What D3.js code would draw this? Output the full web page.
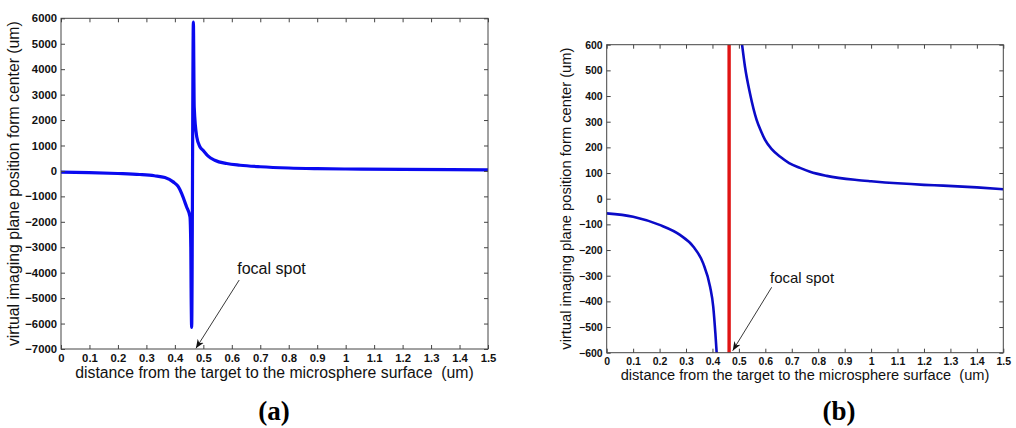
<!DOCTYPE html>
<html>
<head>
<meta charset="utf-8">
<script src="https://cdn.jsdelivr.net/npm/d3@7/dist/d3.min.js"></script>
<style>
  html, body { margin: 0; padding: 0; background: #fff; }
  svg { display: block; }
  .tick text { font-family: "Liberation Sans", Arial, sans-serif; font-weight: bold; fill: #111; }
  .domain { display: none; }
  .tick line { stroke: #444; }
</style>
</head>
<body>
<svg id="fig" width="1016" height="428"></svg>
<script>
// ---- data -------------------------------------------------------------
// (a) full range: image position vs. target distance
const distA = [0, 0.1, 0.2, 0.277, 0.328, 0.365, 0.394, 0.412, 0.424, 0.441, 0.453, 0.456, 0.457, 0.459,
               0.465, 0.468, 0.477, 0.488, 0.500, 0.517, 0.540, 0.582, 0.629, 0.7, 0.8, 0.9, 1.0, 1.2, 1.5];
const posA  = [-50, -65, -100, -140, -190, -260, -430, -620, -890, -1410, -1800, -3000, -4600, -6150,
               5850, 2500, 1335, 950, 800, 580, 420, 290, 224, 165, 115, 90, 75, 58, 45];

// (b) zoomed range, two branches either side of the focal spot
const distBLeft = [0, 0.1, 0.2, 0.277, 0.328, 0.365, 0.391, 0.403, 0.411, 0.416];
const posBLeft  = [-57, -70, -102, -141, -187, -252, -343, -421, -524, -602];
const distBRight = [0.512, 0.523, 0.542, 0.567, 0.585, 0.599, 0.625, 0.655, 0.69, 0.731, 0.769, 0.832,
                    0.946, 1.0, 1.1, 1.2, 1.273, 1.4, 1.5];
const posBRight  = [600, 514, 410, 307, 260, 229, 192, 164, 139, 120, 105, 89,
                    73, 68, 60, 54, 51, 44, 37];

const focalX = 0.463;

// axis ticks
const xTicks = d3.range(0, 16).map(i => i / 10);
const yTicksA = d3.range(-7000, 6001, 1000);
const yTicksB = d3.range(-600, 601, 100);

const xTitle = "distance from the target to the microsphere surface\u00a0\u00a0(um)";
const yTitle = "virtual imaging plane position form center (um)";
const panelLabels = ["(a)", "(b)"];

// ---- helpers ----------------------------------------------------------
const svg = d3.select("#fig");
const fmtX = d => (Math.round(d * 10) / 10).toString();

// shrink/grow a text element's font size so it spans the given width
function fitText(sel, target) {
  const len = sel.node().getComputedTextLength();
  const fs = parseFloat(sel.attr("font-size"));
  sel.attr("font-size", (fs * target / len).toFixed(2));
}

function drawFrame(g, x, y, yTicks, tickFont, yFmt) {
  const [x0, x1] = x.range();
  const [y0, y1] = y.range(); // y0 bottom, y1 top

  g.append("g").attr("transform", `translate(0,${y0})`)
    .call(d3.axisBottom(x).tickValues(xTicks).tickFormat(fmtX).tickSize(-4).tickPadding(5))
    .selectAll("text").attr("font-size", tickFont);
  g.append("g").attr("transform", `translate(0,${y1})`)
    .call(d3.axisTop(x).tickValues(xTicks).tickFormat("").tickSize(-4));
  g.append("g").attr("transform", `translate(${x0},0)`)
    .call(d3.axisLeft(y).tickValues(yTicks).tickFormat(yFmt).tickSize(-4).tickPadding(4))
    .selectAll("text").attr("font-size", tickFont);
  g.append("g").attr("transform", `translate(${x1},0)`)
    .call(d3.axisRight(y).tickValues(yTicks).tickFormat("").tickSize(-4));

  g.selectAll(".tick line").attr("stroke", "#444");

  g.append("rect")
    .attr("x", x0).attr("y", y1)
    .attr("width", x1 - x0).attr("height", y0 - y1)
    .attr("fill", "none").attr("stroke", "#444").attr("stroke-width", 1);
}

function titles(g, x, y, xBase, xWidth, yCenterX, yLen) {
  const [x0, x1] = x.range();
  const [y0, y1] = y.range();
  const tx = g.append("text")
    .attr("x", (x0 + x1) / 2).attr("y", xBase)
    .attr("text-anchor", "middle")
    .attr("font-family", "Liberation Sans, Arial, sans-serif")
    .attr("font-size", 14).attr("fill", "#111")
    .text(xTitle);
  fitText(tx, xWidth);
  const ty = g.append("text")
    .attr("transform", `translate(${yCenterX},${(y0 + y1) / 2}) rotate(-90)`)
    .attr("text-anchor", "middle")
    .attr("font-family", "Liberation Sans, Arial, sans-serif")
    .attr("font-size", 14).attr("fill", "#111")
    .text(yTitle);
  fitText(ty, yLen);
}

function annotate(g, x, y, tx, ty, ax, ay, bx, by, width, id) {
  g.append("line")
    .attr("x1", x(ax)).attr("y1", y(ay))
    .attr("x2", x(bx)).attr("y2", y(by))
    .attr("stroke", "#222").attr("stroke-width", 0.9)
    .attr("marker-end", `url(#${id})`);
  const t = g.append("text")
    .attr("x", x(tx)).attr("y", y(ty))
    .attr("font-family", "Liberation Sans, Arial, sans-serif")
    .attr("font-size", 14).attr("fill", "#111")
    .text("focal spot");
  fitText(t, width);
}

// arrow heads
const defs = svg.append("defs");
["arrA", "arrB"].forEach(id => {
  defs.append("marker")
    .attr("id", id).attr("viewBox", "0 0 10 10")
    .attr("refX", 10).attr("refY", 5)
    .attr("markerWidth", 9).attr("markerHeight", 9)
    .attr("markerUnits", "userSpaceOnUse")
    .attr("orient", "auto")
    .append("path").attr("d", "M0,1 L10,5 L0,9 L3,5 Z").attr("fill", "#111");
});

// ---- panel (a) --------------------------------------------------------
{
  const x = d3.scaleLinear().domain([0, 1.5]).range([61, 488]);
  const y = d3.scaleLinear().domain([-7000, 6000]).range([349, 18.3]);
  const g = svg.append("g");

  const line = d3.line().x(d => x(d[0])).y(d => y(d[1])).curve(d3.curveMonotoneX);
  g.append("path")
    .datum(d3.zip(distA, posA))
    .attr("d", line)
    .attr("fill", "none").attr("stroke", "#0a0af0")
    .attr("stroke-width", 3.2).attr("stroke-linejoin", "round");

  drawFrame(g, x, y, yTicksA, 11.3, d3.format("d"));
  titles(g, x, y, 378, 399, 18.5, 325);
  annotate(g, x, y, 0.619, -4057, 0.626, -4290, 0.474, -6975, 68.7, "arrA");

  g.append("text")
    .attr("x", 274).attr("y", 420)
    .attr("text-anchor", "middle")
    .attr("font-family", "Liberation Serif, Times New Roman, serif")
    .attr("font-weight", "bold").attr("font-size", 27).attr("fill", "#000")
    .text(panelLabels[0]);
}

// ---- panel (b) --------------------------------------------------------
{
  const x = d3.scaleLinear().domain([0, 1.5]).range([606.7, 1003.3]);
  const y = d3.scaleLinear().domain([-600, 600]).range([352.7, 44.7]);
  const g = svg.append("g");

  defs.append("clipPath").attr("id", "clipB")
    .append("rect").attr("x", 606.7).attr("y", 44.7)
    .attr("width", 1003.3 - 606.7).attr("height", 352.7 - 44.7);

  const plot = g.append("g").attr("clip-path", "url(#clipB)");
  const line = d3.line().x(d => x(d[0])).y(d => y(d[1])).curve(d3.curveMonotoneX);

  [[distBLeft, posBLeft], [distBRight, posBRight]].forEach(([xs, ys]) => {
    plot.append("path")
      .datum(d3.zip(xs, ys))
      .attr("d", line)
      .attr("fill", "none").attr("stroke", "#0b0bc8")
      .attr("stroke-width", 2.6);
  });

  plot.append("line")
    .attr("x1", x(focalX)).attr("x2", x(focalX))
    .attr("y1", y(-600)).attr("y2", y(600))
    .attr("stroke", "#e01414").attr("stroke-width", 3.4);

  drawFrame(g, x, y, yTicksB, 10.5, d3.format("d"));
  titles(g, x, y, 380, 369, 571, 302);
  annotate(g, x, y, 0.618, -328, 0.624, -345, 0.4766, -592, 64, "arrB");

  g.append("text")
    .attr("x", 839).attr("y", 420)
    .attr("text-anchor", "middle")
    .attr("font-family", "Liberation Serif, Times New Roman, serif")
    .attr("font-weight", "bold").attr("font-size", 27).attr("fill", "#000")
    .text(panelLabels[1]);
}
</script>
</body>
</html>
